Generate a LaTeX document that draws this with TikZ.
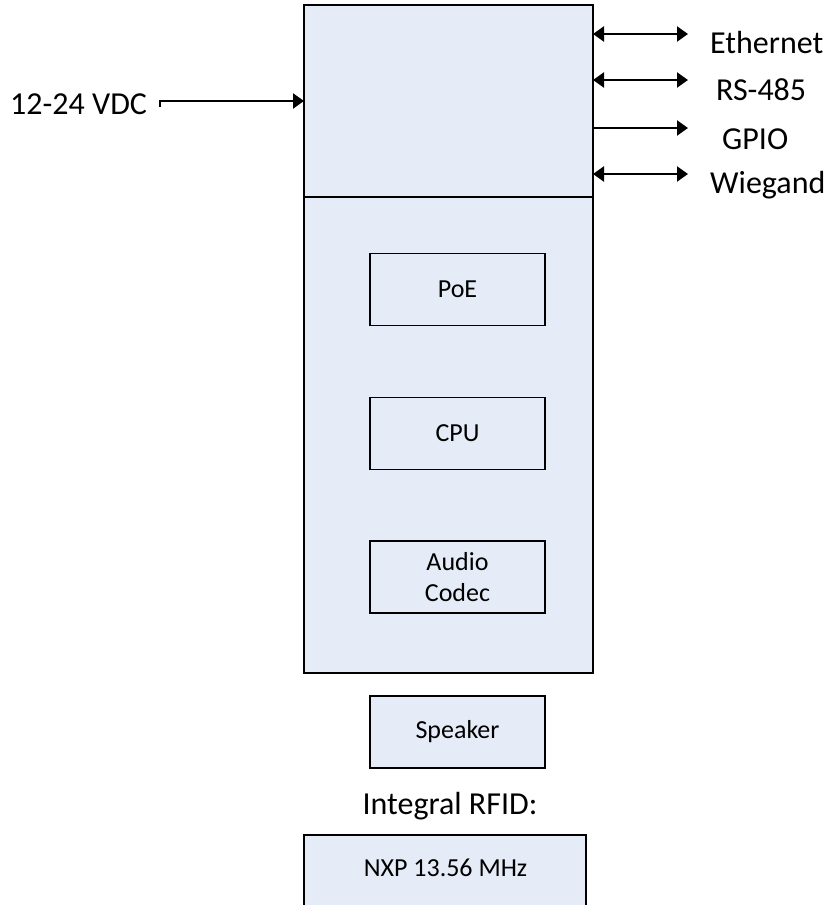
\documentclass[tikz,border=0pt]{standalone}
\usepackage{fontspec}
\setmainfont{Carlito}
\usetikzlibrary{arrows.meta}
\definecolor{boxfill}{RGB}{230,236,247}
\begin{document}
\begin{tikzpicture}[x=1pt,y=-1pt,
  panel/.style={draw=black,line width=1.3pt,fill=boxfill,inner sep=0pt,outer sep=0pt},
  inner/.style={panel,minimum width=175pt,minimum height=72pt,align=center,font=\fontsize{26}{31}\selectfont},
  biglabel/.style={font=\fontsize{32}{38}\selectfont,inner sep=0pt,anchor=west},
  conn/.style={line width=2.2pt,-{Triangle[length=11pt,width=15pt]}},
  bconn/.style={line width=2.2pt,{Triangle[length=11pt,width=15pt]}-{Triangle[length=11pt,width=15pt]}}]
\useasboundingbox (0,0) rectangle (828,905);
% main box
\node[panel,minimum width=289pt,minimum height=192pt] (top) at (448.5,101) {};
\node[panel,minimum width=289pt,minimum height=476pt] (body) at (448.5,435) {};
% inner boxes
\node[inner] (poe) at (457.5,289.5) {PoE};
\node[inner] (cpu) at (457.5,433.5) {CPU};
\node[inner] (codec) at (457.5,577) {Audio\\Codec};
\node[inner] (spk) at (457.5,732) {Speaker};
% RFID
\node[font=\fontsize{32}{38}\selectfont,inner sep=0pt] (rfidlbl) at (450,806) {Integral RFID:};
\node[fill=boxfill,minimum width=282pt,minimum height=75pt,inner sep=0pt,outer sep=0pt] (nxp) at (445,872.5) {};
\node[font=\fontsize{26}{31}\selectfont,inner sep=0pt] (nxptext) at (445.5,868) {NXP 13.56 MHz};
\draw[line width=1.3pt] (nxp.south west) -- (nxp.north west) -- (nxp.north east) -- (nxp.south east);
% right side interfaces
\coordinate (eth) at (688,34);
\coordinate (rs) at (688,80);
\coordinate (gpio) at (688,128);
\coordinate (wie) at (688,174);
\draw[bconn] (top.east |- eth) -- (eth);
\draw[bconn] (top.east |- rs) -- (rs);
\draw[conn] (top.east |- gpio) -- (gpio);
\draw[bconn] (top.east |- wie) -- (wie);
\node[biglabel] (ethl) at (710,43) {Ethernet};
\node[biglabel] (rsl) at (716,90) {RS-485};
\node[biglabel] (gpiol) at (722,139) {GPIO};
\node[biglabel] (wiel) at (710,185) {Wiegand};
% power input
\node[biglabel] (vdc) at (10,104) {12-24 VDC};
\coordinate (vdcs) at (160,101);
\draw[conn] ([yshift=-6pt]vdcs) -- (vdcs) -- (top.west |- vdcs);
\end{tikzpicture}
\end{document}
